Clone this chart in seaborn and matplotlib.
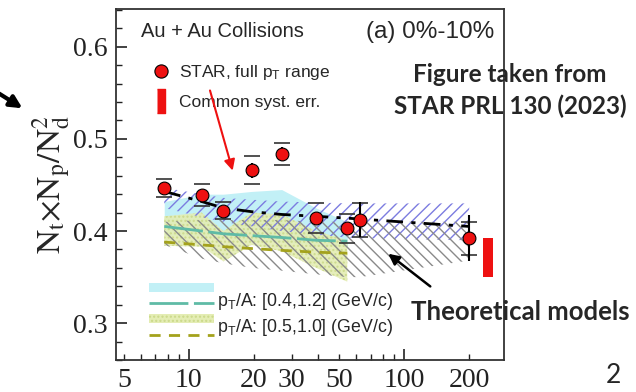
import numpy as np
import pandas as pd
import matplotlib
matplotlib.use("Agg")
import matplotlib.pyplot as plt
import matplotlib.ticker as mticker
from matplotlib.patches import Patch, FancyArrowPatch
from matplotlib.lines import Line2D
import seaborn as sns

# STAR data points, 0-10% central Au+Au
energies = [7.7, 11.5, 14.5, 19.6, 27, 39, 54.4, 62.4, 200]
ratio = [0.447, 0.439, 0.422, 0.466, 0.484, 0.414, 0.403, 0.412, 0.392]
stat_err = [0.005, 0.006, 0.005, 0.008, 0.007, 0.006, 0.006, 0.019, 0.025]
sys_err = [0.010, 0.012, 0.009, 0.015, 0.012, 0.016, 0.016, 0.018, 0.018]

# common systematic error box
common_sys_x = [232, 258]
common_sys_lo = 0.350
common_sys_hi = 0.392

# model curves over the full energy range
model_x = [7.7, 11.5, 14.5, 19.6, 27, 39, 54.4, 62.4, 200]
coal_line = [0.443, 0.432, 0.425, 0.421, 0.418, 0.416, 0.414, 0.413, 0.405]
purple_hi = [0.447, 0.440, 0.436, 0.434, 0.432, 0.431, 0.430, 0.430, 0.430]
purple_lo = [0.425, 0.415, 0.410, 0.405, 0.400, 0.396, 0.393, 0.392, 0.390]
grey_hi = [0.410, 0.412, 0.412, 0.412, 0.412, 0.410, 0.410, 0.410, 0.410]
grey_lo = [0.385, 0.370, 0.365, 0.360, 0.357, 0.353, 0.350, 0.350, 0.368]

# pT/A windows (only up to 54.4 GeV)
win_x = [7.7, 11.5, 14.5, 19.6, 27, 39, 54.4]
cyan_hi = [0.432, 0.440, 0.440, 0.443, 0.445, 0.425, 0.410]
cyan_lo = [0.395, 0.395, 0.392, 0.390, 0.388, 0.385, 0.383]
green_hi = [0.416, 0.420, 0.400, 0.420, 0.418, 0.400, 0.390]
green_lo = [0.384, 0.383, 0.367, 0.385, 0.378, 0.360, 0.345]
teal_line = [0.405, 0.400, 0.397, 0.395, 0.393, 0.390, 0.389]
olive_line = [0.388, 0.385, 0.383, 0.381, 0.379, 0.377, 0.376]

df = pd.DataFrame({"energy": energies, "ratio": ratio})
models = pd.DataFrame({"energy": model_x, "coal": coal_line})
windows = pd.DataFrame({"energy": win_x, "teal": teal_line, "olive": olive_line})

sns.set_style("ticks")
plt.rcParams["font.family"] = ["Liberation Sans", "DejaVu Sans"]
plt.rcParams["mathtext.fontset"] = "custom"
plt.rcParams["mathtext.rm"] = "Liberation Sans"
plt.rcParams["mathtext.it"] = "Liberation Sans:italic"
plt.rcParams["hatch.linewidth"] = 1.0

fig = plt.figure(figsize=(6.36, 3.92), dpi=100)
ax = fig.add_axes([0.1824, 0.0816, 0.610, 0.8954])

# bands
ax.fill_between(win_x, cyan_lo, cyan_hi, color="#c2f0f6", linewidth=0)
ax.fill_between(win_x, green_lo, green_hi, facecolor="#e4edb4", edgecolor="#cbd98a",
                hatch="....", linewidth=0, alpha=0.9)
ax.fill_between(model_x, purple_lo, purple_hi, facecolor="none", edgecolor="#7c7ce0",
                hatch="///", linewidth=0)
ax.fill_between(model_x, grey_lo, grey_hi, facecolor="none", edgecolor="#8a8a8a",
                hatch="\\\\\\", linewidth=0)

# model lines
sns.lineplot(data=windows, x="energy", y="teal", ax=ax, color="#5fbba6", linewidth=2)
ax.lines[-1].set_dashes((14, 2))
sns.lineplot(data=windows, x="energy", y="olive", ax=ax, color="#a4a21c", linewidth=2)
ax.lines[-1].set_dashes((4, 3))
sns.lineplot(data=models, x="energy", y="coal", ax=ax, color="black", linewidth=2)
ax.lines[-1].set_dashes((6, 3, 1.5, 3))

# common syst. error
ax.fill_between(common_sys_x, common_sys_lo, common_sys_hi, color="#ee1111", linewidth=0)

# data
ax.errorbar(energies, ratio, yerr=sys_err, fmt="none", ecolor="#333333", elinewidth=0,
            capsize=6, capthick=1.2, zorder=5)
ax.errorbar(energies, ratio, yerr=stat_err, fmt="none", ecolor="black", elinewidth=1.5,
            zorder=5)
sns.scatterplot(data=df, x="energy", y="ratio", ax=ax, color="#ee1111", edgecolor="black",
                linewidth=0.8, s=85, zorder=6)

ax.set_xscale("log")
ax.set_xlim(4.6, 290)
ax.set_ylim(0.26, 0.641)

ax.xaxis.set_major_locator(mticker.FixedLocator([10, 100]))
ax.xaxis.set_minor_locator(mticker.LogLocator(base=10, subs=np.arange(2, 10)))
ax.xaxis.set_major_formatter(mticker.FuncFormatter(lambda v, p: f"{v:g}"))
ax.xaxis.set_minor_formatter(mticker.FuncFormatter(
    lambda v, p: f"{v:g}" if round(v) in (5, 20, 30, 50, 200) else ""))
ax.yaxis.set_major_locator(mticker.MultipleLocator(0.1))
ax.yaxis.set_minor_locator(mticker.MultipleLocator(0.02))
ax.yaxis.set_major_formatter(mticker.FormatStrFormatter("%.1f"))

ax.tick_params(which="both", direction="in", colors="#222222")
ax.tick_params(which="major", length=8, width=1.2)
ax.tick_params(which="minor", length=4, width=1.0)
for lab in ax.get_xticklabels(which="both") + ax.get_yticklabels():
    lab.set_fontfamily("Liberation Serif")
    lab.set_fontsize(20)
ax.tick_params(axis="y", pad=6)
ax.tick_params(axis="x", which="both", pad=6)
for s in ax.spines.values():
    s.set_linewidth(1.3)
    s.set_color("#333333")

ax.set_xlabel("")
ax.set_ylabel(r"$\mathrm{N_{t}{\times}N_{p}/N_{d}^{2}}$", fontsize=24, labelpad=0,
              math_fontfamily="stix")

ax.text(0.064, 0.935, "Au + Au Collisions", transform=ax.transAxes, fontsize=14.5,
        va="center", ha="left")
ax.text(0.975, 0.935, "(a) 0%-10%", transform=ax.transAxes, fontsize=17.5,
        va="center", ha="right")

# top legend
h1 = Line2D([], [], linestyle="none", marker="o", markersize=9.5,
            markerfacecolor="#ee1111", markeredgecolor="black", markeredgewidth=0.8)
h2 = Line2D([], [], linestyle="none", marker=[(-0.3, -1), (0.3, -1), (0.3, 1), (-0.3, 1)],
            markersize=17, markerfacecolor="#ee1111", markeredgecolor="#ee1111")
leg1 = ax.legend([h1, h2], [r"STAR, full $\mathrm{p_T}$ range", "Common syst. err."],
                 loc="upper left", bbox_to_anchor=(0.05, 0.89), frameon=False,
                 fontsize=12.5, handlelength=1.1, handletextpad=0.5, labelspacing=0.75)
ax.add_artist(leg1)

# bottom legend
k1 = Patch(facecolor="#c2f0f6", edgecolor="none")
k2 = Line2D([], [], color="#5fbba6", linewidth=2, dashes=(14, 2))
k3 = Patch(facecolor="#e4edb4", edgecolor="#cbd98a", hatch="....", linewidth=0)
k4 = Line2D([], [], color="#a4a21c", linewidth=2, dashes=(4, 3))
ax.legend([k1, k2, k3, k4], ["", "", "", ""], loc="lower left",
          bbox_to_anchor=(0.065, 0.03), frameon=False, fontsize=9,
          handlelength=5.2, handletextpad=0.3, labelspacing=0.3, borderpad=0.1)
ax.text(0.26, 0.168, r"$\mathrm{p_T}$/A: [0.4,1.2] (GeV/c)", transform=ax.transAxes,
        fontsize=12.8, va="center")
ax.text(0.26, 0.092, r"$\mathrm{p_T}$/A: [0.5,1.0] (GeV/c)", transform=ax.transAxes,
        fontsize=12.8, va="center")

# slide annotations
fig.text(0.802, 0.81, "Figure taken from", fontsize=17.5, fontweight="bold",
         family="Lato", ha="center", va="center")
fig.text(0.802, 0.728, "STAR PRL 130 (2023)", fontsize=17.5, fontweight="bold",
         family="Lato", ha="center", va="center")
fig.text(0.818, 0.204, "Theoretical models", fontsize=18.5, fontweight="bold",
         family="Lato", ha="center", va="center")
fig.text(0.964, 0.043, "2", fontsize=19, family="Lato", ha="center", va="center")

fig.patches.append(FancyArrowPatch(
    (-0.005, 0.765), (0.039, 0.72), transform=fig.transFigure, arrowstyle="-|>",
    mutation_scale=18, linewidth=3, color="black"))
fig.patches.append(FancyArrowPatch(
    (0.329, 0.776), (0.367, 0.558), transform=fig.transFigure, arrowstyle="-|>",
    mutation_scale=16, linewidth=1.5, color="#ee1111"))
fig.patches.append(FancyArrowPatch(
    (0.68, 0.265), (0.607, 0.357), transform=fig.transFigure, arrowstyle="-|>",
    mutation_scale=16, linewidth=1.8, color="black"))

fig.savefig("out.png", dpi=100)
